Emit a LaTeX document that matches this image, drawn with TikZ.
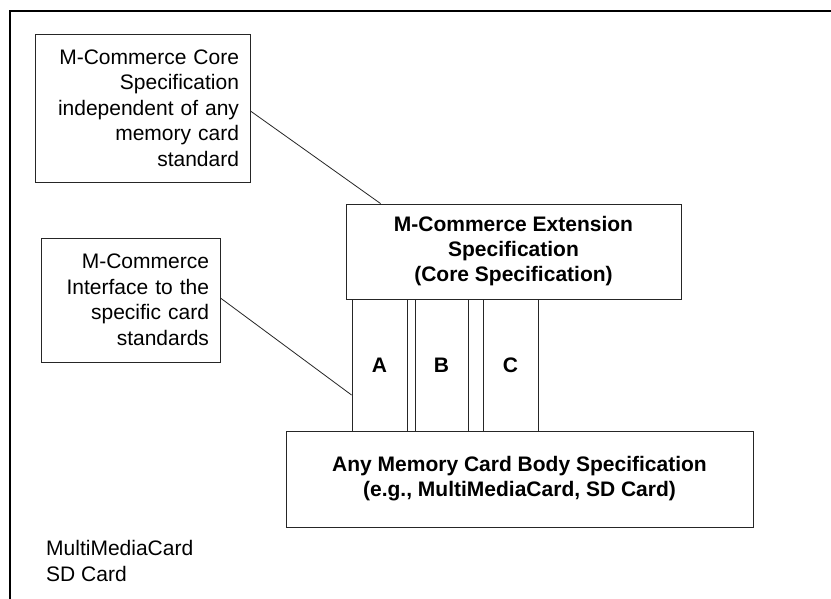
\documentclass[tikz,border=0pt]{standalone}
\usepackage{fontspec}
\setmainfont{Liberation Sans}
\begin{document}
\begin{tikzpicture}[x=1pt,y=-1pt,
  box/.style={draw=black!85, line width=0.9pt, rectangle, inner ysep=0pt},
  notebox/.style={box, align=right, inner xsep=11pt,
    font=\fontsize{21}{25.5}\selectfont},
  specbox/.style={box, align=center, inner xsep=0pt,
    font=\bfseries\fontsize{21}{25}\selectfont},
  column/.style={box, minimum height=132pt, inner xsep=0pt,
    font=\bfseries\fontsize{21}{25}\selectfont},
  link/.style={draw=black!85, line width=0.8pt}]
  \useasboundingbox (0,0) rectangle (831,599);
  \fill[white] (0,0) rectangle (831,599);

  % frame lines along the top and left edges
  \draw[line width=2.5pt] (10,599) -- (10,11) -- (831,11);

  % explanatory notes on the left
  \node[notebox, text width=193pt, minimum height=148pt] (core) at (142.5,108)
    {M-Commerce Core\\Specification\\independent of any\\memory card\\standard};
  \node[notebox, text width=157pt, minimum height=124pt] (iface) at (130.5,300)
    {M-Commerce\\Interface to the\\specific card\\standards};

  % interface columns between the two specification layers
  \node[column, minimum width=55pt] (colA) at (379.5,365) {A};
  \node[column, minimum width=53pt] (colB) at (441.5,365) {B};
  \node[column, minimum width=55pt] (colC) at (510.5,365) {C};

  % specification layers
  \node[specbox, minimum width=335pt, minimum height=95pt] (ext) at (513.5,251.5)
    {M-Commerce Extension\\Specification\\(Core Specification)};
  \node[specbox, minimum width=467pt, minimum height=96pt] (body) at (519.5,479)
    {Any Memory Card Body Specification\\(e.g., MultiMediaCard, SD Card)};

  % note connectors
  \draw[link] ([yshift=-3pt]core.east) -- ([xshift=35pt]ext.north west);
  \draw[link] ([yshift=2pt]iface.east) -- ([yshift=-30pt]colA.west);

  % card list
  \node[anchor=north west, inner sep=0pt, align=left,
    font=\fontsize{21}{26}\selectfont] (cards) at (46,540.5)
    {MultiMediaCard\\SD Card};
\end{tikzpicture}
\end{document}
